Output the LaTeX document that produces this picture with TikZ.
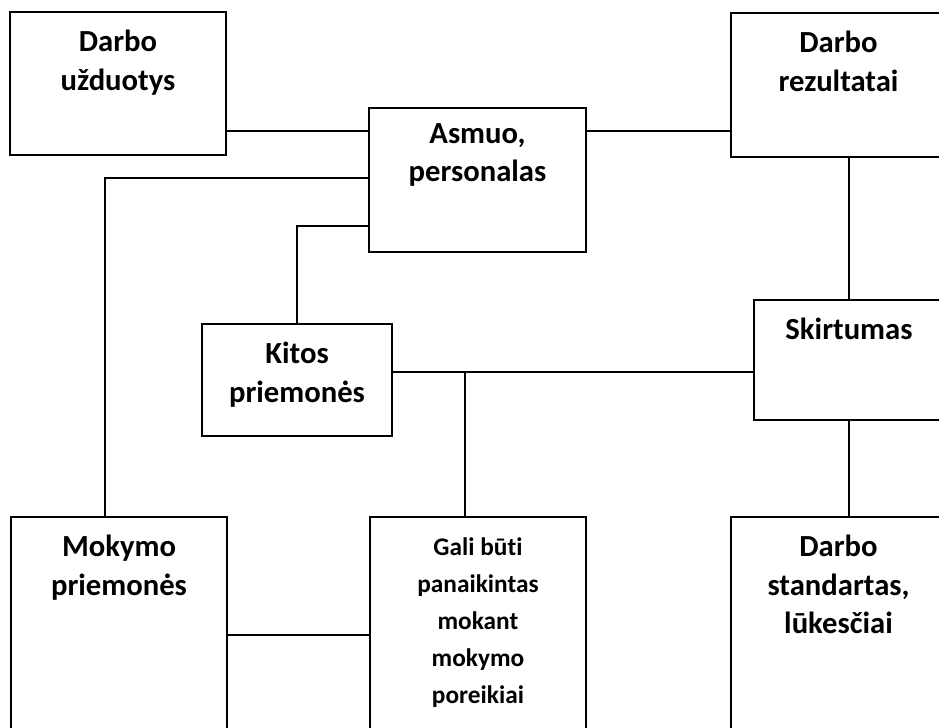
\documentclass[tikz,border=0pt]{standalone}
\usepackage{fontspec}
\setmainfont{Carlito}[Ligatures=NoCommon]
\usetikzlibrary{positioning,calc}
\tikzset{
    blockbox/.style={draw=black,fill=white,line width=1.5pt,rectangle,inner sep=0pt},
    blocklabel/.style={anchor=north,yshift=-14pt,inner sep=0pt,align=center,
      font=\bfseries\fontsize{23}{29}\selectfont},
    smalllabel/.style={blocklabel,yshift=-2pt,
      font=\bfseries\fontsize{19}{27.75}\selectfont},
    link/.style={draw=black,line width=1.5pt}
}

\begin{document}
\begin{tikzpicture}[x=0.75pt,y=-0.75pt]
    \useasboundingbox (0,0) rectangle (939,728);
    \clip (0,0) rectangle (939,728);
    % top row
    \node[blockbox,minimum width=162pt,minimum height=107.25pt,
      label={[blocklabel]north:Darbo\\užduotys}] (uzd) at (118,83.5) {};
    \node[blockbox,minimum width=162.75pt,minimum height=108pt,
      label={[blocklabel,yshift=2pt]north:Asmuo,\\personalas}] (asm) at (477.5,180) {};
    \node[blockbox,minimum width=161.25pt,minimum height=108pt,
      label={[blocklabel]north:Darbo\\rezultatai}] (rez) at (838.5,85) {};
    % middle row
    \node[blockbox,minimum width=142.5pt,minimum height=84pt,
      label={[blocklabel]north:Kitos\\priemonės}] (kit) at (297,380) {};
    \node[blockbox,minimum width=142.5pt,minimum height=90pt,
      label={[blocklabel]north:Skirtumas}] (skr) at (849,360) {};
    % bottom row
    \node[blockbox,minimum width=162pt,minimum height=189.75pt,
      label={[blocklabel]north:Mokymo\\priemonės}] (mok) at (119,643.5) {};
    \node[blockbox,minimum width=162pt,minimum height=189.75pt,
      label={[smalllabel]north:Gali būti\\panaikintas\\mokant\\mokymo\\poreikiai}] (gal) at (478,643.5) {};
    \node[blockbox,minimum width=161.25pt,minimum height=189.75pt,
      label={[blocklabel]north:Darbo\\standartas,\\lūkesčiai}] (std) at (838.5,643.5) {};
    % attach points
    \path (asm.north west) ++(0,24) coordinate (asmA);
    \path (asm.north east) ++(0,24) coordinate (asmB);
    \path (asm.north west) ++(0,71) coordinate (asmC);
    \path (asm.north west) ++(0,119) coordinate (asmD);
    \path (mok.north west) ++(95,0) coordinate (mokT);
    \path (mok.north east) ++(0,119) coordinate (mokR);
    \path (kit.east) ++(0,-8.5) coordinate (kitR);
    \path (gal.north west) ++(96,0) coordinate (galT);
    % connectors
    \draw[link] (asmA) -- (asmA -| uzd.east);
    \draw[link] (asmB) -- (asmB -| rez.west);
    \draw[link] (asmC) -| (mokT);
    \draw[link] (asmD) -| (kit.north);
    \draw[link] (skr.north) -- (skr.north |- rez.south);
    \draw[link] (skr.south) -- (skr.south |- std.north);
    \draw[link] (kitR) -- (kitR -| skr.west);
    \draw[link] (kitR -| galT) -- (galT);
    \draw[link] (mokR) -- (mokR -| gal.west);
\end{tikzpicture}
\end{document}
